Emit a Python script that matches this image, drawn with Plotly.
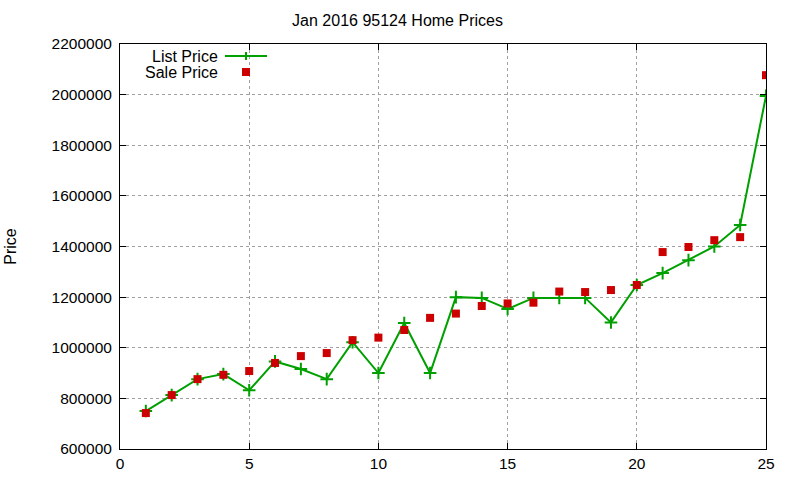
import plotly.graph_objects as go

days = list(range(1, 26))
list_price = [750000, 813000, 876000, 896000, 832000, 946000, 916000, 876000, 1022000, 900000,
              1098000, 900000, 1200000, 1197000, 1153000, 1197000, 1197000, 1197000, 1100000, 1248000,
              1295000, 1346000, 1400000, 1485000, 1995000]
sale_price = [742000, 813000, 876000, 893000, 908000, 940000, 967000, 979000, 1030000, 1040000,
              1070000, 1118000, 1135000, 1165000, 1175000, 1178000, 1222000, 1220000, 1228000, 1248000,
              1378000, 1398000, 1425000, 1437000, 2077000]

GREEN = "#00a000"
RED = "#cc0000"
FONT = "Liberation Sans, Arial, sans-serif"

fig = go.Figure()
fig.add_trace(go.Scatter(x=days, y=list_price, mode="lines+markers", name="List Price",
                         line=dict(color=GREEN, width=2),
                         marker=dict(symbol="cross-thin", size=9, line=dict(color=GREEN, width=2)),
                         showlegend=False))
fig.add_trace(go.Scatter(x=days, y=sale_price, mode="markers", name="Sale Price",
                         marker=dict(symbol="square", size=8, color=RED),
                         showlegend=False))

W, H = 800, 480
L, R, T, B = 120, 34, 44, 31
pw, ph = W - L - R, H - T - B

def px(x):
    return (x - L) / pw

def py(y):
    return (H - B - y) / ph

# manual gnuplot-style legend (text left, sample right)
for label, yy in (("List Price", 56), ("Sale Price", 72)):
    fig.add_annotation(x=px(219), y=py(yy), xref="paper", yref="paper", text=label,
                       showarrow=False, xanchor="right", yanchor="middle", height=14,
                       valign="middle", borderpad=0,
                       font=dict(family=FONT, size=16, color="black"))
fig.add_shape(type="line", xref="paper", yref="paper", x0=px(225), x1=px(267), y0=py(56), y1=py(56),
              line=dict(color=GREEN, width=2))
fig.add_shape(type="line", xref="paper", yref="paper", x0=px(246), x1=px(246), y0=py(52), y1=py(60),
              line=dict(color=GREEN, width=2))
fig.add_shape(type="rect", xref="paper", yref="paper", x0=px(242), x1=px(250), y0=py(68), y1=py(76),
              line=dict(width=0), fillcolor=RED)

axis_common = dict(showline=True, linecolor="black", linewidth=1, mirror="ticks",
                   ticks="inside", ticklen=6, tickcolor="black",
                   showgrid=True, gridcolor="#a0a0a0", griddash="dot", gridwidth=1,
                   zeroline=False, automargin=False,
                   tickfont=dict(family=FONT, size=15.5, color="black"))

fig.update_xaxes(range=[0, 25], dtick=5, tick0=0, **axis_common)
fig.update_yaxes(range=[600000, 2200000], dtick=200000, tick0=600000, tickformat="d",
                 ticklabelstandoff=4,
                 title=dict(text="Price", font=dict(family=FONT, size=16, color="black"), standoff=30),
                 **axis_common)

fig.update_layout(
    width=W, height=H,
    margin=dict(l=L, r=R, t=T, b=B),
    paper_bgcolor="white", plot_bgcolor="white",
    title=dict(text="Jan 2016 95124 Home Prices", x=px(441), xanchor="center", y=1 - 20 / H,
               yanchor="middle", font=dict(family=FONT, size=16, color="black")),
    font=dict(family=FONT),
)

fig.write_html("out.html")
